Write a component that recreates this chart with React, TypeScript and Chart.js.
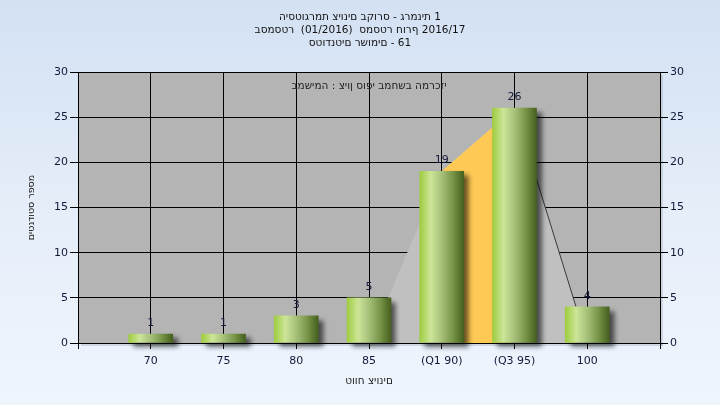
import React, { useEffect, useRef } from 'react';
import { Chart, registerables } from 'chart.js';

Chart.register(...registerables);

// ---- data ----
const titleLines = [
  'היסטוגרמת ציונים בקורס - גרמנית 1',
  'בסמסטר  (01/2016)  סמסטר חורף 2016/17',
  'סטודנטים רשומים - 61',
];
const taskLabel = 'במשימה : ציון סופי במחשב המרכזי';
const xAxisTitle = 'טווח ציונים';
const yAxisTitle = 'מספר סטודנטים';
const categories = ['70', '75', '80', '85', '(Q1 90)', '(Q3 95)', '100'];
const studentCounts = [1, 1, 3, 5, 19, 26, 4];
const curveValues = [null, null, null, 0, 19, 26, 0];
const iqrValues = [null, null, null, null, 19, 26, null];
const yMin = 0;
const yMax = 30;
const yStep = 5;

// ---- styles ----
const FONT = 'DejaVu Sans';
const TEXT = '#14183a';
const BAR_W = 44;
const PLOT_BG = '#b4b4b4';
const CURVE_BG = '#c0c0c0';
const IQR_BG = '#ffc955';

// the reference draws its strings left-to-right in stored order
const ltr = (s: string) => '\u202D' + s + '\u202C';
const pad = (arr: any[]) => [null, ...arr, null];
const paddedLabels = ['', ...categories, ''];
const q3Index = categories.indexOf('(Q3 95)') + 1;

const plotBgPlugin = {
  id: 'plotBg',
  beforeDraw(chart: any) {
    const { ctx, chartArea: a } = chart;
    ctx.save();
    ctx.fillStyle = 'rgba(150,160,175,0.35)';
    ctx.fillRect(a.left + 3, a.bottom, a.right - a.left, 3);
    ctx.fillRect(a.right, a.top + 3, 3, a.bottom - a.top);
    ctx.fillStyle = PLOT_BG;
    ctx.fillRect(a.left, a.top, a.right - a.left, a.bottom - a.top);
    ctx.restore();
  },
};

const shadowPlugin = {
  id: 'barShadow',
  beforeDatasetDraw(chart: any, args: any) {
    if (args.index !== 0) return;
    const ctx = chart.ctx;
    ctx.save();
    ctx.shadowColor = 'rgba(0,0,0,0.6)';
    ctx.shadowBlur = 5;
    ctx.shadowOffsetX = 5;
    ctx.shadowOffsetY = 4;
  },
  afterDatasetDraw(chart: any, args: any) {
    if (args.index !== 0) return;
    chart.ctx.restore();
  },
};

const labelsPlugin = {
  id: 'valueLabels',
  afterDatasetsDraw(chart: any) {
    const { ctx, chartArea: a } = chart;
    const meta = chart.getDatasetMeta(0);
    const data = chart.data.datasets[0].data;
    ctx.save();
    ctx.font = `11px "${FONT}"`;
    ctx.fillStyle = TEXT;
    ctx.textAlign = 'center';
    ctx.textBaseline = 'alphabetic';
    meta.data.forEach((el: any, i: number) => {
      const v = data[i];
      if (v === null || v === undefined) return;
      ctx.fillText(String(v), el.x, el.y - 8);
    });
    ctx.font = `10.5px "${FONT}"`;
    ctx.textBaseline = 'middle';
    ctx.fillStyle = '#222';
    ctx.fillText(ltr(taskLabel), (a.left + a.right) / 2, a.top + 14);
    ctx.restore();
  },
};

function barGradient(c: any) {
  const chart = c.chart;
  const xs = chart.scales && chart.scales.x;
  if (!xs || typeof c.dataIndex !== 'number') return '#9cbb5a';
  const cx = xs.getPixelForValue(c.dataIndex);
  if (!Number.isFinite(cx)) return '#9cbb5a';
  const g = chart.ctx.createLinearGradient(cx - BAR_W / 2, 0, cx + BAR_W / 2, 0);
  g.addColorStop(0, '#9fcc40');
  g.addColorStop(0.25, '#cce598');
  g.addColorStop(0.5, '#a6c07a');
  g.addColorStop(0.75, '#789548');
  g.addColorStop(1, '#46601e');
  return g;
}

export default function App() {
  const ref = useRef<HTMLCanvasElement | null>(null);

  useEffect(() => {
    if (!ref.current) return;
    const tickFont = { family: FONT, size: 11 };
    const chart = new Chart(ref.current, {
      data: {
        labels: paddedLabels,
        datasets: [
          {
            type: 'bar',
            data: pad(studentCounts),
            backgroundColor: barGradient,
            borderWidth: 0,
            barThickness: BAR_W,
            order: 0,
            clip: false,
            yAxisID: 'y',
          } as any,
          {
            type: 'line',
            data: pad(iqrValues),
            fill: 'origin',
            backgroundColor: IQR_BG,
            borderWidth: 0,
            borderColor: 'transparent',
            pointRadius: 0,
            tension: 0,
            order: 1,
            yAxisID: 'y',
          } as any,
          {
            type: 'line',
            data: pad(curveValues),
            fill: 'origin',
            backgroundColor: CURVE_BG,
            borderWidth: 1,
            borderColor: 'transparent',
            segment: {
              borderColor: (s: any) => (s.p0DataIndex === q3Index ? '#3a3a3a' : 'transparent'),
            },
            pointRadius: 0,
            tension: 0,
            order: 2,
            yAxisID: 'y',
          } as any,
        ],
      },
      options: {
        responsive: false,
        animation: false,
        devicePixelRatio: 1,
        events: [],
        layout: { padding: 0 },
        plugins: {
          legend: { display: false },
          tooltip: { enabled: false },
          title: {
            display: true,
            text: titleLines.map(ltr),
            color: '#111',
            font: { family: FONT, size: 10.5, weight: 'normal', lineHeight: 13 / 10.5 },
            padding: { top: 10.5, bottom: 22.5 },
          },
        },
        scales: {
          x: {
            type: 'category',
            offset: false,
            grid: { offset: false, color: '#000', lineWidth: 1, tickLength: 6, tickColor: '#000' },
            border: { color: '#000' },
            ticks: { font: tickFont, color: TEXT, padding: 6, maxRotation: 0, autoSkip: false },
            title: {
              display: true,
              text: ltr(xAxisTitle),
              color: '#222',
              font: { family: FONT, size: 10.5 },
              padding: { top: 0, bottom: 17.5 },
            },
            afterFit: (s: any) => { s.height = 62; },
          },
          y: {
            position: 'left',
            min: yMin,
            max: yMax,
            grid: { color: '#000', lineWidth: 1, tickLength: 8, tickColor: '#000' },
            border: { color: '#000' },
            ticks: { stepSize: yStep, font: tickFont, color: TEXT, padding: 2 },
            title: {
              display: true,
              text: yAxisTitle,
              color: '#222',
              font: { family: FONT, size: 9.5 },
              padding: { top: 26, bottom: 0 },
            },
            afterFit: (s: any) => { s.width = 78; },
          },
          y2: {
            position: 'right',
            min: yMin,
            max: yMax,
            grid: { drawOnChartArea: false, tickLength: 8, tickColor: '#000', color: '#000' },
            border: { color: '#000' },
            ticks: { stepSize: yStep, font: tickFont, color: TEXT, padding: 2 },
            afterFit: (s: any) => { s.width = 60; },
          },
        },
      } as any,
      plugins: [plotBgPlugin, shadowPlugin, labelsPlugin],
    });
    return () => chart.destroy();
  }, []);

  return (
    <div
      style={{
        position: 'fixed',
        left: 0,
        top: 0,
        width: 720,
        height: 405,
        background: 'linear-gradient(to bottom, #d3e1f3 0%, #e6eef9 55%, #eef5fd 100%)',
      }}
    >
      <canvas ref={ref} width={720} height={405} style={{ display: 'block' }} />
    </div>
  );
}
